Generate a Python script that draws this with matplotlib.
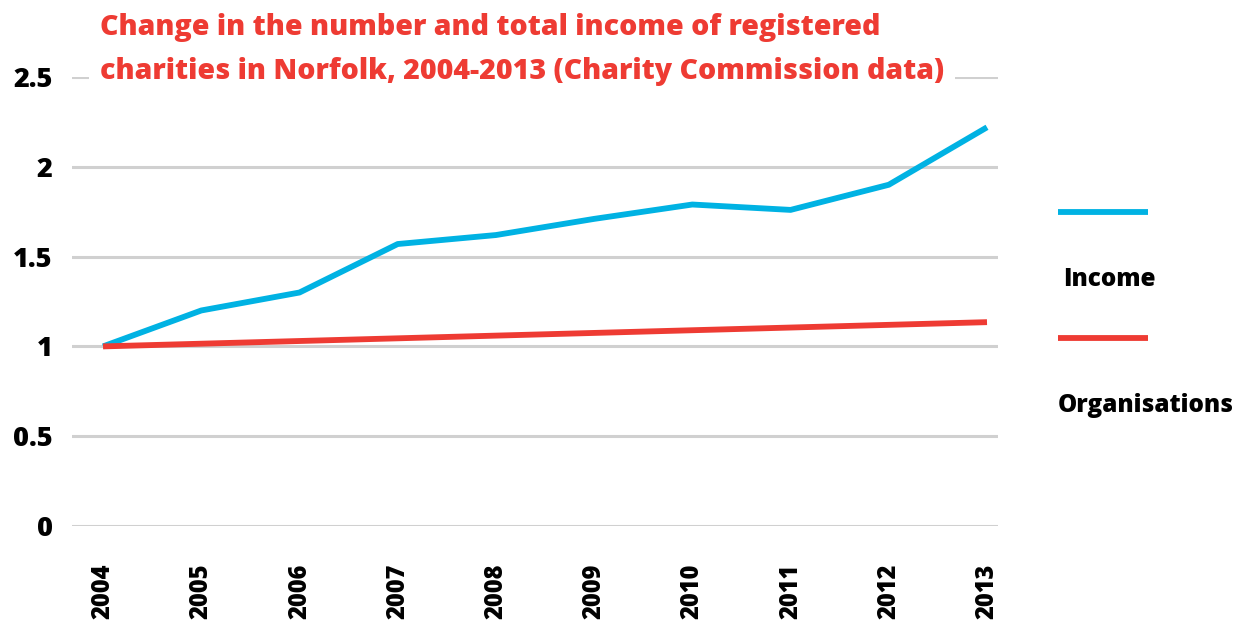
import matplotlib
matplotlib.use("Agg")
import matplotlib.pyplot as plt
from matplotlib.lines import Line2D

plt.rcParams['font.family'] = ['Open Sans', 'DejaVu Sans']

years = ["2004", "2005", "2006", "2007", "2008", "2009", "2010", "2011", "2012", "2013"]
income = [1.00, 1.20, 1.30, 1.57, 1.62, 1.71, 1.79, 1.76, 1.90, 2.22]
organisations = [1.00, 1.015, 1.03, 1.045, 1.06, 1.075, 1.09, 1.105, 1.12, 1.135]
y_ticks = [0, 0.5, 1, 1.5, 2, 2.5]
y_tick_labels = ["0", "0.5", "1", "1.5", "2", "2.5"]
title_lines = ["Change in the number and total income of registered",
               "charities in Norfolk, 2004-2013 (Charity Commission data)"]

BLUE = "#00B2E3"
RED = "#EE3B33"
GRID = "#D0D0D0"
WEIGHT = 'heavy'

W, H = 1239, 625
fig = plt.figure(figsize=(W / 100, H / 100), dpi=100)
ax = fig.add_axes([72 / W, (H - 526) / H, (998 - 72) / W, (526 - 77) / H])

x = list(range(len(years)))
ax.plot(x, income, color=BLUE, lw=4.2, solid_capstyle='butt', zorder=3)
ax.plot(x, organisations, color=RED, lw=4.2, solid_capstyle='butt', zorder=3)

ax.set_xlim(-0.316, 9.112)
ax.set_ylim(0, 2.5)
ax.set_yticks(y_ticks)
ax.set_yticklabels(y_tick_labels, fontsize=19.5, fontweight=WEIGHT)
ax.set_xticks(x)
ax.set_xticklabels(years, rotation=90, fontsize=17, fontweight=WEIGHT, va='top')
ax.tick_params(axis='y', length=0, pad=14)
ax.tick_params(axis='x', length=0, pad=27)
ax.yaxis.grid(True, color=GRID, lw=2.2)
ax.set_axisbelow(True)
for s in ax.spines.values():
    s.set_visible(False)
ax.patch.set_alpha(0)

# Two-line title; the white backing hides the top gridline behind it
fig.text(100 / W, 1 - 35 / H, title_lines[0], color=RED, fontsize=20.5,
         fontweight=WEIGHT, ha='left', va='baseline')
fig.text(100 / W, 1 - 79 / H, title_lines[1], color=RED, fontsize=20.5,
         fontweight=WEIGHT, ha='left', va='baseline',
         bbox=dict(facecolor='white', edgecolor='none', pad=8))

# Legend drawn at the right side
fig.add_artist(Line2D([1058 / W, 1148 / W], [1 - 212 / H] * 2, color=BLUE, lw=4.2,
                      solid_capstyle='butt'))
fig.text(1063 / W, 1 - 280 / H, "Income", fontsize=17.5, fontweight=WEIGHT,
         ha='left', va='center')
fig.add_artist(Line2D([1058 / W, 1148 / W], [1 - 338 / H] * 2, color=RED, lw=4.2,
                      solid_capstyle='butt'))
fig.text(1058 / W, 1 - 405 / H, "Organisations", fontsize=17.5, fontweight=WEIGHT,
         ha='left', va='center')

fig.savefig("out.png", dpi=100)
